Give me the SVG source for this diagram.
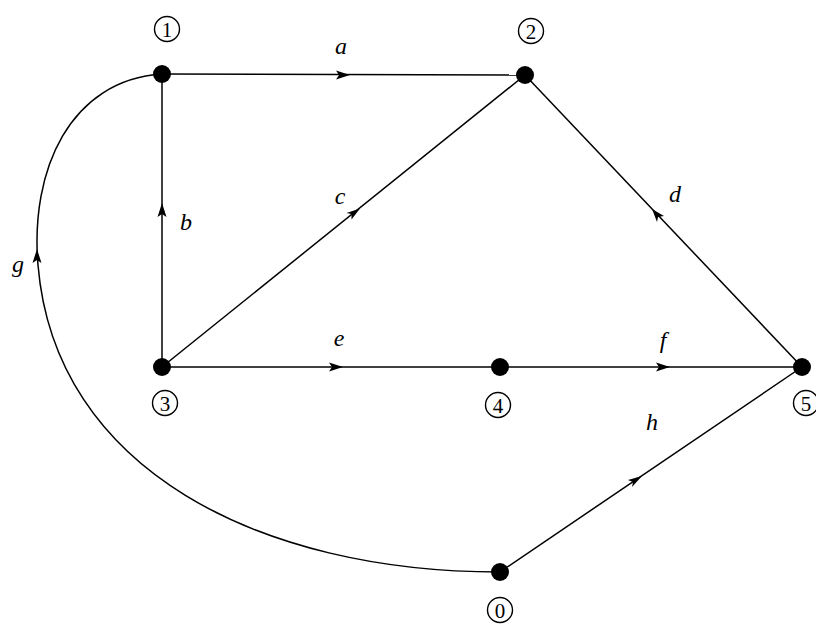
<svg xmlns="http://www.w3.org/2000/svg" width="816" height="632" viewBox="0 0 816 632">
<style>
.e{stroke:#000;stroke-width:1.5;fill:none}
.n{fill:#000}
.lc{fill:none;stroke:#000;stroke-width:1.4}
.lt{font-family:"Liberation Serif",serif;font-size:21px;text-anchor:middle;fill:#000}
.el{font-family:"Liberation Serif",serif;font-style:italic;font-size:24px;text-anchor:middle;fill:#000}
.ar{fill:#000}
</style>
<rect width="816" height="632" fill="#fff"/>
<g id="connectors">
<path class="e" d="M162,74 L525,75"/>
<path class="e" d="M162,367 L162,74"/>
<path class="e" d="M162,367 L525,75"/>
<path class="e" d="M802,367 L525,75"/>
<path class="e" d="M162,367 L500,367"/>
<path class="e" d="M500,367 L802,367"/>
<path class="e" d="M500,572 C 260,572 55,470 38,265 C 30,170 70,80 162,74"/>
<path class="e" d="M500,572 L802,367"/>
<polygon class="ar" points="350,75 336,70.5 339,75 336,79.5"/>
<polygon class="ar" points="162,203 157.5,217 162,214 166.5,217"/>
<polygon class="ar" points="360,208.5 346.5,213 351.5,214 351.5,219.5"/>
<polygon class="ar" points="652,209 657,222 658,217 664,216"/>
<polygon class="ar" points="343,367 329,362.5 332,367 329,371.5"/>
<polygon class="ar" points="670,367 656,362.5 659,367 656,371.5"/>
<polygon class="ar" points="37,249 32.5,263 37,260 41.5,263"/>
<polygon class="ar" points="642,476 628,480 633,482 632,487"/>
</g>
<g id="node1"><circle class="n" cx="162" cy="74" r="9"/><circle class="lc" cx="167" cy="29" r="12.5"/><text class="lt" x="167" y="36.5">1</text></g>
<g id="node2"><circle class="n" cx="525" cy="75" r="9"/><circle class="lc" cx="531" cy="31" r="12.5"/><text class="lt" x="531" y="38.5">2</text></g>
<g id="node3"><circle class="n" cx="162" cy="367" r="9"/><circle class="lc" cx="165" cy="403" r="12.5"/><text class="lt" x="165" y="410.5">3</text></g>
<g id="node4"><circle class="n" cx="500" cy="367" r="9"/><circle class="lc" cx="498" cy="405" r="12.5"/><text class="lt" x="498" y="412.5">4</text></g>
<g id="node5"><circle class="n" cx="802" cy="367" r="9"/><circle class="lc" cx="806" cy="403" r="12.5"/><text class="lt" x="806" y="410.5">5</text></g>
<g id="node0"><circle class="n" cx="500" cy="572" r="9"/><circle class="lc" cx="500" cy="610" r="12.5"/><text class="lt" x="500" y="617.5">0</text></g>
<g id="labels">
<text class="el" x="341" y="54">a</text>
<text class="el" x="186" y="230">b</text>
<text class="el" x="340" y="204">c</text>
<text class="el" x="675" y="202">d</text>
<text class="el" x="339" y="346">e</text>
<text class="el" x="663" y="348">f</text>
<text class="el" x="18" y="272">g</text>
<text class="el" x="652" y="430">h</text>
</g>
</svg>
